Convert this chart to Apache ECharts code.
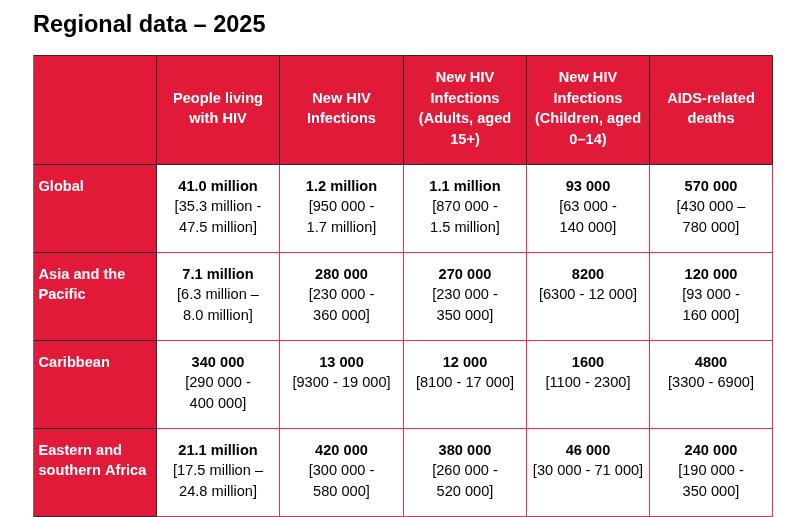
<!DOCTYPE html>
<html>
<head>
<meta charset="utf-8">
<script src="https://cdn.jsdelivr.net/npm/echarts@6/dist/echarts.min.js"></script>
<style>
html,body{margin:0;padding:0;background:#fff;}
#main{width:800px;height:517px;}
</style>
</head>
<body>
<div id="main"></div>
<script>
// ---- data ----
var titleText = 'Regional data \u2013 2025';
var regions = ['Global', 'Asia and the\nPacific', 'Caribbean', 'Eastern and\nsouthern Africa'];
var columns = [
  'People living\nwith HIV',
  'New HIV\nInfections',
  'New HIV\nInfections\n(Adults, aged\n15+)',
  'New HIV\nInfections\n(Children, aged\n0\u201314)',
  'AIDS-related\ndeaths'
];
var peopleLiving      = ['41.0 million', '7.1 million', '340 000', '21.1 million'];
var peopleLivingRange = ['35.3 million - 47.5 million', '6.3 million \u2013 8.0 million', '290 000 - 400 000', '17.5 million \u2013 24.8 million'];
var newInfections      = ['1.2 million', '280 000', '13 000', '420 000'];
var newInfectionsRange = ['950 000 - 1.7 million', '230 000 - 360 000', '9300 - 19 000', '300 000 - 580 000'];
var adultInfections      = ['1.1 million', '270 000', '12 000', '380 000'];
var adultInfectionsRange = ['870 000 - 1.5 million', '230 000 - 350 000', '8100 - 17 000', '260 000 - 520 000'];
var childInfections      = ['93 000', '8200', '1600', '46 000'];
var childInfectionsRange = ['63 000 - 140 000', '6300 - 12 000', '1100 - 2300', '30 000 - 71 000'];
var aidsDeaths      = ['570 000', '120 000', '4800', '240 000'];
var aidsDeathsRange = ['430 000 \u2013 780 000', '93 000 - 160 000', '3300 - 6900', '190 000 - 350 000'];

var metricValues = [peopleLiving, newInfections, adultInfections, childInfections, aidsDeaths];
var metricRanges = [peopleLivingRange, newInfectionsRange, adultInfectionsRange, childInfectionsRange, aidsDeathsRange];

// ---- layout / style ----
var FONT = '"Liberation Sans", Arial, Helvetica, sans-serif';
var FS = 14.6;
var RED = '#e21a3a';
var DARK = '#2b2b2b';
var GREY = '#6e6e6e';
var PINK = '#e8304f';
var HEADER_SPAN = 109 / 88;   // header row height relative to a body row
var MAX_LINE = 110;

var ctx = document.createElement('canvas').getContext('2d');
ctx.font = '14px ' + FONT;
function rangeLines(r) {
  var one = '[' + r + ']';
  if (ctx.measureText(one).width <= MAX_LINE) return [one];
  var m = r.match(/^(.*?) ([-\u2013]) (.*)$/);
  return ['[' + m[1] + ' ' + m[2], m[3] + ']'];
}

// build cells
var whiteCells = [], whiteTexts = [];
var redCells = [], redTexts = [], redKinds = [];
var totalY = HEADER_SPAN + regions.length;
redCells.push([0, 1, 0, HEADER_SPAN]); redTexts.push(''); redKinds.push('header');
columns.forEach(function (c, i) {
  redCells.push([i + 1, i + 2, 0, HEADER_SPAN]); redTexts.push(c); redKinds.push('header');
});
regions.forEach(function (r, j) {
  var y0 = HEADER_SPAN + j, y1 = y0 + 1;
  redCells.push([0, 1, y0, y1]); redTexts.push(r); redKinds.push('label');
  metricValues.forEach(function (vals, i) {
    whiteCells.push([i + 1, i + 2, y0, y1]);
    var lines = rangeLines(metricRanges[i][j]);
    var t = '{b|' + vals[j] + '}';
    lines.forEach(function (l) { t += '\n{r|' + l + '}'; });
    whiteTexts.push(t);
  });
});

function cellRect(api) {
  var p0 = api.coord([api.value(0), api.value(2)]);
  var p1 = api.coord([api.value(1), api.value(3)]);
  var x = Math.round(p0[0]) + 0.5, y = Math.round(p0[1]) + 0.5;
  var x2 = Math.round(p1[0]) + 0.5, y2 = Math.round(p1[1]) + 0.5;
  return { x: x, y: y, width: x2 - x, height: y2 - y };
}

var chart = echarts.init(document.getElementById('main'), null, { renderer: 'canvas' });
chart.setOption({
  backgroundColor: '#ffffff',
  animation: false,
  title: {
    text: titleText, left: 33, top: 14, padding: 0,
    textStyle: { fontFamily: FONT, fontSize: 23.5, fontWeight: 'bold', color: '#000' }
  },
  grid: { left: 33, right: 28, top: 55, bottom: 1 },
  xAxis: { type: 'value', min: 0, max: 6, show: false },
  yAxis: { type: 'value', min: 0, max: totalY, inverse: true, show: false },
  series: [
    {
      type: 'custom', z: 1,
      encode: { x: [0, 1], y: [2, 3] },
      data: whiteCells,
      renderItem: function (params, api) {
        var r = cellRect(api);
        return {
          type: 'group',
          children: [
            { type: 'rect', z2: 0, shape: r, style: { fill: '#ffffff', stroke: null } },
            { type: 'rect', z2: 10, shape: r, style: { fill: null, stroke: PINK, lineWidth: 1 } },
            {
              type: 'text', z2: 20,
              style: {
                x: r.x + r.width / 2, y: r.y + 12.5,
                text: whiteTexts[params.dataIndex],
                align: 'center', verticalAlign: 'top',
                fontFamily: FONT,
                rich: {
                  b: { fontFamily: FONT, fontSize: FS, fontWeight: 'bold', color: '#000', lineHeight: 20.3, align: 'center' },
                  r: { fontFamily: FONT, fontSize: FS, color: '#000', lineHeight: 20.3, align: 'center' }
                }
              }
            }
          ]
        };
      }
    },
    {
      type: 'custom', z: 2,
      encode: { x: [0, 1], y: [2, 3] },
      data: redCells,
      renderItem: function (params, api) {
        var r = cellRect(api);
        var kind = redKinds[params.dataIndex];
        var txt = redTexts[params.dataIndex];
        var textEl = kind === 'header' ? {
          type: 'text', z2: 20,
          style: {
            x: r.x + r.width / 2, y: r.y + r.height / 2 - 1,
            text: txt, align: 'center', verticalAlign: 'middle',
            fontFamily: FONT, fontSize: FS, fontWeight: 'bold', fill: '#ffffff', lineHeight: 20.5
          }
        } : {
          type: 'text', z2: 20,
          style: {
            x: r.x + 5, y: r.y + 12.5,
            text: txt, align: 'left', verticalAlign: 'top',
            fontFamily: FONT, fontSize: FS, fontWeight: 'bold', fill: '#ffffff', lineHeight: 20.3
          }
        };
        var children = [
          { type: 'rect', z2: 0, shape: r, style: { fill: RED, stroke: null } },
          { type: 'rect', z2: 10, shape: r, style: { fill: null, stroke: DARK, lineWidth: 1 } },
          textEl
        ];
        if (api.value(0) === 0) {
          children.push({
            type: 'line', z2: 11,
            shape: { x1: r.x, y1: r.y, x2: r.x, y2: r.y + r.height },
            style: { stroke: GREY, lineWidth: 1 }
          });
        }
        return { type: 'group', children: children };
      }
    }
  ]
});
</script>
</body>
</html>
